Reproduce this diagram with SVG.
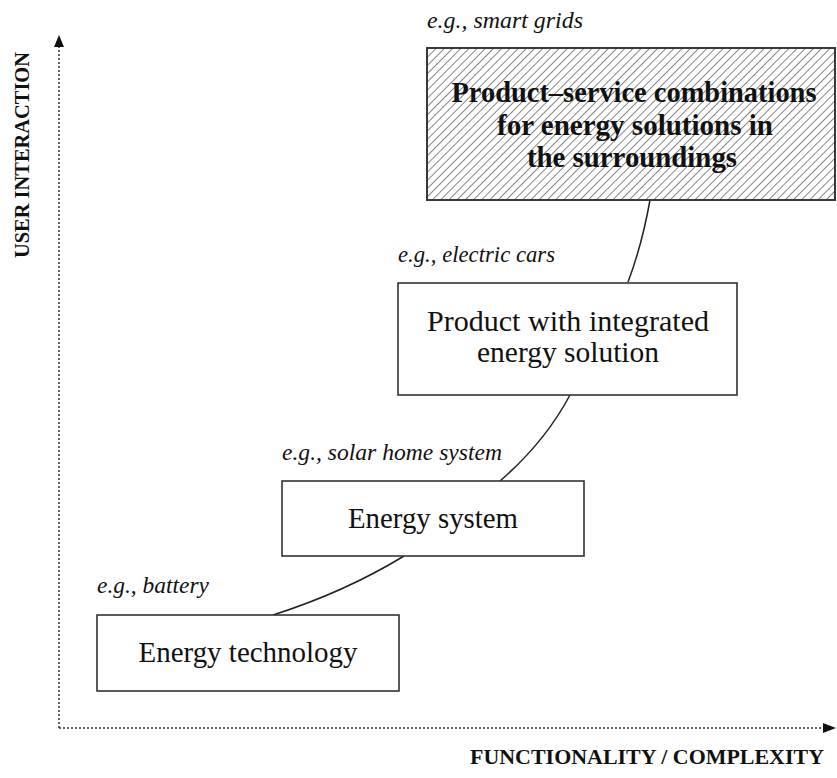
<svg xmlns="http://www.w3.org/2000/svg" width="837" height="778" viewBox="0 0 837 778">
<style>
.box{fill:#fff;stroke:#333;stroke-width:1.6}
.main{font-family:"Liberation Serif",serif;font-size:29px;fill:#111;text-anchor:middle}
.bold{font-weight:bold}
.eg{font-family:"Liberation Serif",serif;font-style:italic;font-size:23px;fill:#111}
.axl{font-family:"Liberation Serif",serif;font-weight:bold;font-size:22px;fill:#111}
.axis{stroke:#333;stroke-width:1.5;stroke-dasharray:2 2;fill:none}
.conn{stroke:#222;stroke-width:1.5;fill:none}
</style>
<defs>
<pattern id="hatch" patternUnits="userSpaceOnUse" width="5.8" height="5.8" patternTransform="rotate(45)">
<line x1="0" y1="0" x2="0" y2="5.8" stroke="#222" stroke-width="1.1"/>
</pattern>
</defs>
<rect width="837" height="778" fill="#fff"/>
<g id="axes">
<line class="axis" x1="59" y1="728" x2="59" y2="47"/>
<polygon points="59,35 54,47 64,47" fill="#111"/>
<line class="axis" x1="59" y1="728" x2="823" y2="728"/>
<polygon points="836,728 823,723 823,733" fill="#111"/>
<text class="axl" transform="translate(29,155) rotate(-90)" text-anchor="middle" textLength="206" lengthAdjust="spacingAndGlyphs">USER INTERACTION</text>
<text class="axl" x="470" y="764" textLength="354" lengthAdjust="spacingAndGlyphs">FUNCTIONALITY / COMPLEXITY</text>
</g>
<g id="connectors">
<path class="conn" d="M650,200 Q642,245 628,282"/>
<path class="conn" d="M570,395 Q545,442 500,481"/>
<path class="conn" d="M404,556 Q345,592 273,615"/>
</g>
<g id="node-surroundings">
<rect class="box" x="427" y="48" width="408" height="152"/>
<rect x="427" y="48" width="408" height="152" fill="url(#hatch)" stroke="#333" stroke-width="1.6"/>
<text class="eg" x="427" y="28" textLength="156" lengthAdjust="spacingAndGlyphs">e.g., smart grids</text>
<text class="main bold" x="634" y="102" textLength="365" lengthAdjust="spacingAndGlyphs">Product–service combinations</text>
<text class="main bold" x="635" y="135" textLength="276" lengthAdjust="spacingAndGlyphs">for energy solutions in</text>
<text class="main bold" x="632" y="167" textLength="210" lengthAdjust="spacingAndGlyphs">the surroundings</text>
</g>
<g id="node-product">
<rect class="box" x="398" y="283" width="339" height="112"/>
<text class="eg" x="398" y="262" textLength="157" lengthAdjust="spacingAndGlyphs">e.g., electric cars</text>
<text class="main" x="568" y="331" textLength="282" lengthAdjust="spacingAndGlyphs">Product with integrated</text>
<text class="main" x="568" y="362" textLength="182" lengthAdjust="spacingAndGlyphs">energy solution</text>
</g>
<g id="node-system">
<rect class="box" x="282" y="481" width="302" height="75"/>
<text class="eg" x="282" y="460" textLength="220" lengthAdjust="spacingAndGlyphs">e.g., solar home system</text>
<text class="main" x="433" y="528" textLength="170" lengthAdjust="spacingAndGlyphs">Energy system</text>
</g>
<g id="node-technology">
<rect class="box" x="97" y="615" width="302" height="76"/>
<text class="eg" x="97" y="593" textLength="112" lengthAdjust="spacingAndGlyphs">e.g., battery</text>
<text class="main" x="248" y="662" textLength="219" lengthAdjust="spacingAndGlyphs">Energy technology</text>
</g>
</svg>
